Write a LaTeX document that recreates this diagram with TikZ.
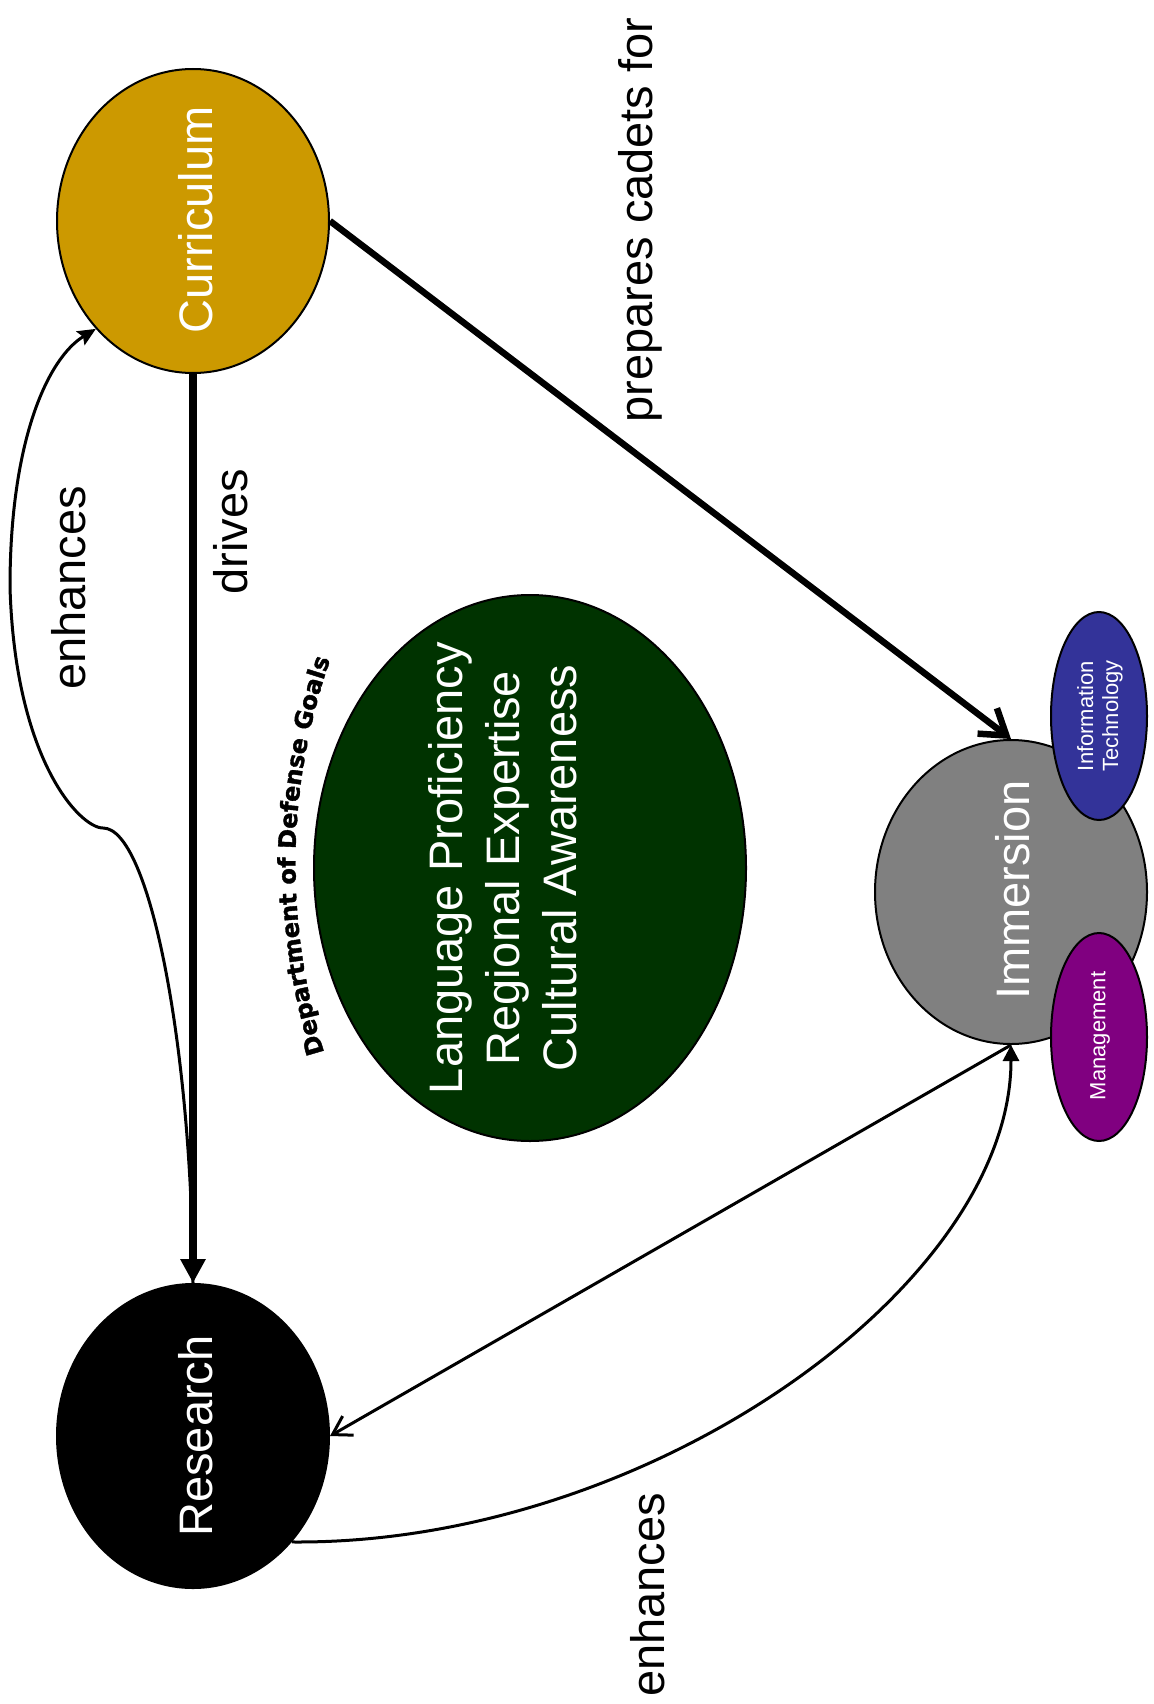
\documentclass[tikz,border=0pt]{standalone}
\usepackage{fontspec}
\setmainfont{Liberation Sans}
\newfontfamily\dvheavy{DejaVu Sans Bold}[FakeBold=1.6]
\usetikzlibrary{shapes.geometric,arrows.meta,decorations.text}
\definecolor{curgold}{HTML}{CC9900}
\definecolor{dodgreen}{HTML}{003300}
\definecolor{immgray}{HTML}{808080}
\definecolor{itblue}{HTML}{333399}
\definecolor{mgmtpurple}{HTML}{800080}
\begin{document}
\begin{tikzpicture}[x=1pt,y=-1pt,
  blob/.style={ellipse, draw=black, line width=2pt, inner sep=0pt},
  bigblob/.style={blob, minimum width=272pt, minimum height=304pt},
  smallblob/.style={blob, minimum width=96pt, minimum height=208pt},
  bigtxt/.style={rotate=90, text=white, font=\fontsize{47}{57}\selectfont, inner sep=0pt, align=center},
  lbl/.style={rotate=90, text=black, font=\fontsize{47}{57}\selectfont, inner sep=0pt},
  smalltxt/.style={rotate=90, text=white, font=\fontsize{22}{25}\selectfont, inner sep=0pt, align=center},
  heavyline/.style={draw=black, line width=6.5pt},
  thinline/.style={draw=black, line width=3pt}
]
\fill[white] (0,0) rectangle (1153,1704);
\useasboundingbox (0,0) rectangle (1153,1704);

% main nodes
\node[bigblob, fill=curgold] (cur) at (193,221) {};
\node[bigtxt] (curT) at (196,220) {Curriculum};
\node[bigblob, fill=black] (res) at (193,1436) {};
\node[bigtxt] (resT) at (196,1436) {Research};
\node[bigblob, fill=immgray] (imm) at (1011,892) {};
\node[bigtxt] (immT) at (1013,890) {Immersion};
\node[smallblob, fill=itblue] (it) at (1099,716) {};
\node[smalltxt] (itT) at (1100,716) {Information\\Technology};
\node[smallblob, fill=mgmtpurple] (mg) at (1099,1037) {};
\node[smalltxt] (mgT) at (1100,1036) {Management};
\node[blob, fill=dodgreen, minimum width=432pt, minimum height=546pt] (goal) at (530,868) {};
\node[bigtxt] (goalT) at (503,868) {Language Proficiency\\Regional Expertise\\Cultural Awareness};

% connectors
\draw[heavyline, line width=8pt, -{Triangle[length=24pt,width=24pt]}] (cur.south) -- (res.north);
\draw[heavyline, -{Straight Barb[length=24pt,width=32pt]}] (cur.east) -- (imm.north);
\draw[thinline, -{Straight Barb[length=18pt,width=22pt]}] (imm.south) -- (res.east);
\draw[thinline, -{Triangle[length=16pt,width=16pt]}] (res.313) .. controls (650,1545) and (1011,1285) .. (imm.south);
\draw[thinline, -{Stealth[length=18pt,width=16pt,inset=3pt]}] (res.north)
  .. controls (192,1050) and (150,828) .. (103,828)
  .. controls (80,828) and (15,760) .. (10,587)
  .. controls (10,440) and (48,358) .. (cur.228);

% labels
\node[lbl] (prep) at (640,220) {prepares cadets for};
\node[lbl] (drv) at (231,532) {drives};
\node[lbl] (enh1) at (69,588) {enhances};
\node[lbl] (enh2) at (648,1595) {enhances};

% curved title
\path[decorate, decoration={text along path, text align=center,
  text={|\dvheavy\fontsize{24}{24}\selectfont|Department of Defense Goals}}]
  (324,1052) .. controls (285,925) and (285,790) .. (330,660);
\end{tikzpicture}
\end{document}
